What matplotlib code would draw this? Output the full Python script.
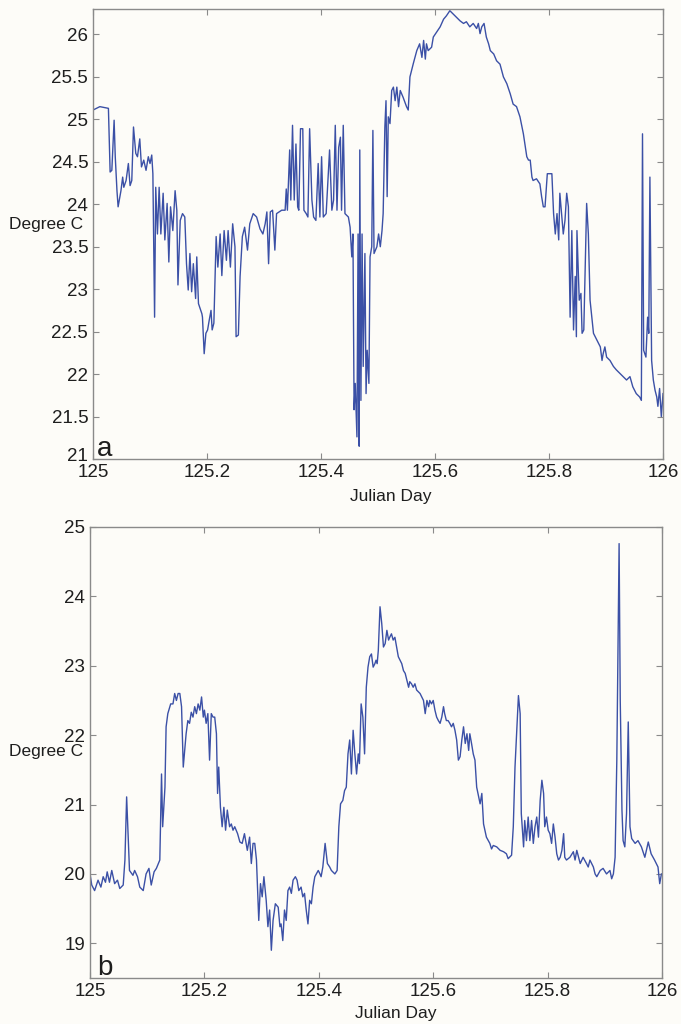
import matplotlib
matplotlib.use('Agg')
import matplotlib.pyplot as plt
import matplotlib.transforms as mtransforms

plt.rcParams['font.family'] = ['Liberation Sans', 'DejaVu Sans']

# ---------------- data: panel a ----------------
a_day = [125.000, 125.012, 125.027, 125.030, 125.033, 125.037, 125.039, 125.042, 125.044, 125.049,
         125.052, 125.054, 125.058, 125.062, 125.065, 125.068, 125.071, 125.075, 125.078, 125.082,
         125.085, 125.089, 125.093, 125.097, 125.100, 125.103, 125.105, 125.108, 125.110, 125.113,
         125.116, 125.119, 125.123, 125.126, 125.130, 125.133, 125.136, 125.140, 125.144, 125.147,
         125.149, 125.153, 125.157, 125.161, 125.164, 125.167, 125.170, 125.173, 125.176, 125.180,
         125.182, 125.185, 125.191, 125.192, 125.195, 125.198, 125.201, 125.204, 125.207, 125.209,
         125.212, 125.216, 125.219, 125.223, 125.226, 125.230, 125.234, 125.237, 125.241, 125.245,
         125.249, 125.251, 125.255, 125.258, 125.262, 125.266, 125.271, 125.275, 125.281, 125.287,
         125.293, 125.298, 125.302, 125.305, 125.308, 125.311, 125.315, 125.319, 125.322, 125.331,
         125.337, 125.339, 125.341, 125.345, 125.347, 125.350, 125.353, 125.356, 125.359, 125.361,
         125.364, 125.368, 125.370, 125.374, 125.377, 125.380, 125.384, 125.387, 125.391, 125.395,
         125.398, 125.401, 125.404, 125.409, 125.415, 125.419, 125.422, 125.425, 125.428, 125.431,
         125.434, 125.436, 125.439, 125.442, 125.448, 125.451, 125.454, 125.456, 125.458, 125.460,
         125.463, 125.465, 125.466, 125.467, 125.468, 125.470, 125.472, 125.474, 125.477, 125.479,
         125.481, 125.484, 125.486, 125.489, 125.491, 125.493, 125.498, 125.501, 125.504, 125.507,
         125.509, 125.512, 125.514, 125.516, 125.518, 125.521, 125.524, 125.527, 125.530, 125.533,
         125.536, 125.539, 125.544, 125.550, 125.553, 125.556, 125.562, 125.568, 125.573, 125.577,
         125.580, 125.583, 125.585, 125.588, 125.594, 125.597, 125.603, 125.609, 125.615, 125.620,
         125.626, 125.632, 125.638, 125.644, 125.650, 125.655, 125.661, 125.667, 125.673, 125.676,
         125.679, 125.682, 125.686, 125.690, 125.694, 125.697, 125.703, 125.708, 125.714, 125.720,
         125.726, 125.732, 125.737, 125.743, 125.749, 125.755, 125.761, 125.764, 125.767, 125.770,
         125.772, 125.778, 125.784, 125.787, 125.790, 125.793, 125.797, 125.805, 125.808, 125.811,
         125.814, 125.817, 125.819, 125.822, 125.825, 125.828, 125.831, 125.834, 125.837, 125.840,
         125.843, 125.846, 125.848, 125.849, 125.853, 125.856, 125.858, 125.861, 125.866, 125.869,
         125.872, 125.875, 125.878, 125.884, 125.890, 125.893, 125.895, 125.898, 125.901, 125.907,
         125.913, 125.918, 125.924, 125.930, 125.936, 125.942, 125.947, 125.953, 125.959, 125.962,
         125.964, 125.966, 125.970, 125.973, 125.975, 125.977, 125.980, 125.983, 125.986, 125.989,
         125.991, 125.994, 125.997, 126.000]
a_temp = [25.11, 25.15, 25.13, 24.38, 24.40, 24.99, 24.56, 24.16, 23.97, 24.16,
          24.32, 24.20, 24.28, 24.48, 24.22, 24.28, 24.91, 24.60, 24.56, 24.77,
          24.44, 24.52, 24.40, 24.56, 24.48, 24.58, 24.36, 22.67, 24.20, 23.65,
          24.20, 23.65, 24.13, 23.58, 24.01, 23.32, 23.97, 23.69, 24.16, 23.93,
          23.05, 23.81, 23.89, 23.85, 23.30, 22.99, 23.42, 22.97, 23.30, 22.89,
          23.38, 22.83, 22.71, 22.67, 22.24, 22.48, 22.52, 22.64, 22.75, 22.52,
          22.60, 23.62, 23.26, 23.65, 23.16, 23.69, 23.34, 23.69, 23.26, 23.77,
          23.50, 22.44, 22.46, 23.15, 23.62, 23.73, 23.46, 23.77, 23.89, 23.85,
          23.71, 23.65, 23.77, 23.91, 23.30, 23.91, 23.93, 23.46, 23.89, 23.93,
          23.93, 24.18, 23.93, 24.64, 24.05, 24.93, 24.05, 24.71, 23.97, 23.93,
          24.89, 24.89, 23.93, 23.89, 23.85, 24.89, 24.05, 23.85, 23.81, 24.48,
          23.85, 24.56, 23.85, 23.89, 24.64, 23.93, 24.05, 24.93, 23.93, 24.67,
          24.79, 23.93, 24.93, 23.89, 23.85, 23.73, 23.38, 23.65, 21.58, 21.89,
          21.26, 23.65, 21.69, 21.15, 24.64, 21.69, 23.65, 22.09, 23.42, 21.77,
          22.28, 21.89, 23.38, 23.50, 24.87, 23.42, 23.50, 23.65, 23.50, 23.69,
          23.89, 24.91, 25.22, 24.09, 25.03, 24.95, 25.34, 25.38, 25.22, 25.38,
          25.15, 25.34, 25.26, 25.15, 25.11, 25.50, 25.66, 25.81, 25.89, 25.73,
          25.93, 25.71, 25.89, 25.81, 25.85, 25.97, 26.03, 26.09, 26.18, 26.22,
          26.28, 26.24, 26.20, 26.16, 26.13, 26.15, 26.09, 26.13, 26.07, 26.13,
          26.01, 26.09, 26.13, 25.97, 25.89, 25.81, 25.77, 25.69, 25.65, 25.50,
          25.42, 25.30, 25.18, 25.15, 25.03, 24.83, 24.56, 24.52, 24.52, 24.32,
          24.28, 24.30, 24.24, 24.09, 23.97, 23.97, 24.36, 24.36, 23.89, 23.65,
          23.89, 23.58, 24.13, 23.89, 23.65, 23.81, 24.13, 23.97, 22.67, 23.69,
          22.52, 23.15, 22.44, 23.69, 22.87, 22.95, 22.48, 22.52, 24.01, 23.65,
          22.87, 22.67, 22.48, 22.40, 22.32, 22.16, 22.24, 22.32, 22.20, 22.16,
          22.09, 22.05, 22.01, 21.97, 21.93, 21.97, 21.85, 21.77, 21.73, 21.69,
          24.83, 22.28, 22.20, 22.67, 22.48, 24.32, 22.16, 21.93, 21.81, 21.73,
          21.62, 21.83, 21.50, 21.77]

# ---------------- data: panel b ----------------
b_day = [125.000, 125.003, 125.008, 125.014, 125.019, 125.023, 125.027, 125.030, 125.034, 125.038,
         125.043, 125.048, 125.052, 125.058, 125.061, 125.064, 125.066, 125.069, 125.075, 125.078,
         125.083, 125.087, 125.093, 125.098, 125.103, 125.107, 125.112, 125.116, 125.122, 125.125,
         125.127, 125.131, 125.133, 125.136, 125.141, 125.145, 125.148, 125.151, 125.154, 125.157,
         125.160, 125.163, 125.166, 125.168, 125.171, 125.174, 125.177, 125.180, 125.183, 125.186,
         125.189, 125.192, 125.195, 125.198, 125.200, 125.203, 125.206, 125.209, 125.212, 125.215,
         125.218, 125.221, 125.223, 125.225, 125.228, 125.231, 125.234, 125.237, 125.240, 125.244,
         125.247, 125.250, 125.253, 125.258, 125.262, 125.266, 125.270, 125.275, 125.279, 125.282,
         125.285, 125.288, 125.291, 125.295, 125.298, 125.301, 125.304, 125.308, 125.311, 125.314,
         125.317, 125.320, 125.324, 125.329, 125.332, 125.334, 125.337, 125.340, 125.343, 125.346,
         125.349, 125.352, 125.355, 125.359, 125.362, 125.365, 125.369, 125.372, 125.375, 125.378,
         125.381, 125.384, 125.387, 125.390, 125.393, 125.399, 125.402, 125.404, 125.407, 125.411,
         125.415, 125.419, 125.422, 125.428, 125.432, 125.435, 125.438, 125.442, 125.445, 125.448,
         125.451, 125.454, 125.457, 125.460, 125.463, 125.466, 125.469, 125.471, 125.474, 125.477,
         125.480, 125.483, 125.486, 125.489, 125.492, 125.495, 125.498, 125.500, 125.502, 125.504,
         125.507, 125.510, 125.513, 125.516, 125.519, 125.522, 125.524, 125.527, 125.530, 125.533,
         125.536, 125.539, 125.542, 125.545, 125.548, 125.551, 125.554, 125.557, 125.559, 125.562,
         125.565, 125.568, 125.571, 125.577, 125.580, 125.583, 125.586, 125.589, 125.592, 125.594,
         125.597, 125.600, 125.603, 125.606, 125.609, 125.612, 125.615, 125.618, 125.620, 125.623,
         125.626, 125.629, 125.632, 125.635, 125.638, 125.641, 125.644, 125.647, 125.650, 125.653,
         125.656, 125.659, 125.662, 125.664, 125.667, 125.670, 125.673, 125.676, 125.682, 125.685,
         125.688, 125.693, 125.699, 125.702, 125.705, 125.711, 125.717, 125.723, 125.728, 125.731,
         125.737, 125.740, 125.743, 125.749, 125.752, 125.754, 125.758, 125.760, 125.763, 125.766,
         125.769, 125.772, 125.775, 125.778, 125.781, 125.784, 125.787, 125.790, 125.793, 125.795,
         125.798, 125.801, 125.804, 125.807, 125.810, 125.813, 125.816, 125.819, 125.822, 125.825,
         125.828, 125.830, 125.833, 125.839, 125.845, 125.848, 125.851, 125.857, 125.862, 125.868,
         125.871, 125.874, 125.880, 125.883, 125.886, 125.892, 125.897, 125.903, 125.909, 125.912,
         125.915, 125.918, 125.921, 125.925, 125.927, 125.930, 125.932, 125.935, 125.938, 125.941,
         125.944, 125.947, 125.953, 125.958, 125.964, 125.970, 125.976, 125.981, 125.987, 125.993,
         125.996, 125.999]
b_temp = [20.00, 19.84, 19.76, 19.91, 19.81, 19.96, 19.88, 20.03, 19.88, 20.05,
          19.86, 19.91, 19.79, 19.84, 20.20, 21.11, 20.68, 20.05, 19.98, 20.05,
          19.96, 19.81, 19.76, 20.00, 20.08, 19.84, 20.03, 20.08, 20.20, 21.44,
          20.68, 21.25, 22.12, 22.31, 22.45, 22.45, 22.60, 22.50, 22.60, 22.60,
          22.41, 21.54, 21.83, 22.02, 22.21, 22.17, 22.33, 22.26, 22.41, 22.31,
          22.45, 22.36, 22.55, 22.26, 22.36, 22.17, 22.31, 21.64, 22.31, 22.26,
          22.26, 22.02, 21.16, 21.54, 20.96, 20.68, 20.96, 20.63, 20.92, 20.68,
          20.72, 20.63, 20.68, 20.58, 20.46, 20.44, 20.58, 20.34, 20.53, 20.15,
          20.44, 20.44, 20.20, 19.33, 19.86, 19.67, 19.96, 19.62, 19.24, 19.48,
          18.90, 19.33, 19.57, 19.52, 19.24, 19.28, 19.04, 19.48, 19.33, 19.76,
          19.81, 19.72, 19.91, 19.96, 19.91, 19.76, 19.81, 19.67, 19.72, 19.48,
          19.28, 19.62, 19.57, 19.81, 19.96, 20.05, 20.00, 19.96, 20.10, 20.44,
          20.15, 20.10, 20.05, 20.00, 20.05, 20.68, 21.01, 21.06, 21.20, 21.25,
          21.73, 21.93, 21.44, 22.07, 21.73, 21.44, 21.73, 21.59, 22.45, 22.26,
          21.73, 22.69, 22.98, 23.13, 23.17, 22.98, 23.03, 23.08, 23.03, 23.22,
          23.85, 23.61, 23.27, 23.32, 23.51, 23.37, 23.41, 23.46, 23.37, 23.41,
          23.27, 23.13, 23.08, 23.03, 22.93, 22.89, 22.79, 22.69, 22.77, 22.74,
          22.69, 22.74, 22.65, 22.60, 22.55, 22.50, 22.31, 22.50, 22.41, 22.50,
          22.45, 22.50, 22.36, 22.26, 22.21, 22.17, 22.26, 22.41, 22.31, 22.21,
          22.21, 22.17, 22.12, 22.17, 22.07, 21.93, 21.64, 21.69, 21.93, 22.12,
          21.88, 22.02, 21.78, 22.02, 21.88, 21.73, 21.64, 21.25, 21.01, 21.16,
          20.72, 20.53, 20.44, 20.36, 20.41, 20.39, 20.34, 20.32, 20.29, 20.22,
          20.27, 20.68, 21.54, 22.57, 22.31, 20.87, 20.39, 20.77, 20.48, 20.82,
          20.48, 20.77, 20.44, 20.68, 20.82, 20.53, 21.06, 21.35, 21.16, 20.68,
          20.82, 20.63, 20.58, 20.44, 20.72, 20.53, 20.29, 20.20, 20.24, 20.34,
          20.58, 20.24, 20.20, 20.24, 20.32, 20.20, 20.34, 20.15, 20.24, 20.15,
          20.10, 20.20, 20.10, 20.00, 19.96, 20.05, 20.08, 20.00, 20.05, 19.93,
          20.00, 20.24, 21.64, 24.76, 22.50, 20.92, 20.48, 20.39, 20.87, 22.19,
          20.68, 20.51, 20.44, 20.48, 20.39, 20.24, 20.46, 20.29, 20.20, 20.10,
          19.86, 20.00]

# ---------------- ticks / labels ----------------
x_ticks = [125, 125.2, 125.4, 125.6, 125.8, 126]
x_tick_labels = ['125', '125.2', '125.4', '125.6', '125.8', '126']
a_y_ticks = [21, 21.5, 22, 22.5, 23, 23.5, 24, 24.5, 25, 25.5, 26]
a_y_tick_labels = ['21', '21.5', '22', '22.5', '23', '23.5', '24', '24.5', '25', '25.5', '26']
b_y_ticks = [19, 20, 21, 22, 23, 24, 25]
b_y_tick_labels = ['19', '20', '21', '22', '23', '24', '25']
x_label = 'Julian Day'
y_label = 'Degree C'
panel_letters = ['a', 'b']

bg = '#fdfcf8'
line_color = '#3b50a6'
spine_color = '#8a8a8a'
text_color = '#1e1e1e'

fig = plt.figure(figsize=(6.81, 10.24), dpi=100, facecolor=bg)
ax_a = fig.add_axes([0.1366, 0.5518, 0.8370, 0.4394])
ax_b = fig.add_axes([0.1322, 0.0449, 0.8399, 0.4405])


def style(ax, yticks, ylabels, ylim):
    ax.set_facecolor(bg)
    ax.set_xlim(125, 126)
    ax.set_ylim(*ylim)
    ax.set_xticks(x_ticks)
    ax.set_xticklabels(x_tick_labels)
    ax.set_yticks(yticks)
    ax.set_yticklabels(ylabels)
    ax.tick_params(direction='in', length=4.5, width=0.8, color=spine_color,
                   top=True, right=True, labelsize=13.5, labelcolor=text_color,
                   pad=3.5)
    for s in ax.spines.values():
        s.set_color(spine_color)
        s.set_linewidth(1.0)


ax_a.plot(a_day, a_temp, color=line_color, lw=1.0)
style(ax_a, a_y_ticks, a_y_tick_labels, (21, 26.3))
# lowest y label sits slightly higher than its tick in the original
lbl = ax_a.get_yticklabels()[0]
lbl.set_transform(lbl.get_transform() +
                  mtransforms.ScaledTranslation(0, 3 / 72, fig.dpi_scale_trans))
ax_a.text(-0.0175, 0.52, y_label, transform=ax_a.transAxes, ha='right', va='center',
          fontsize=12.5, color=text_color)
ax_a.text(0.523, -0.084, x_label, transform=ax_a.transAxes, ha='center', va='center',
          fontsize=12.5, color=text_color)
ax_a.text(0.007, 0.006, panel_letters[0], transform=ax_a.transAxes, ha='left',
          va='baseline', fontsize=20, color=text_color)

ax_b.plot(b_day, b_temp, color=line_color, lw=1.0)
style(ax_b, b_y_ticks, b_y_tick_labels, (18.5, 25))
ax_b.text(-0.012, 0.503, y_label, transform=ax_b.transAxes, ha='right', va='center',
          fontsize=12.5, color=text_color)
ax_b.text(0.535, -0.078, x_label, transform=ax_b.transAxes, ha='center', va='center',
          fontsize=12.5, color=text_color)
ax_b.text(0.012, 0.007, panel_letters[1], transform=ax_b.transAxes, ha='left',
          va='baseline', fontsize=20, color=text_color)

fig.savefig('out.png', dpi=100, facecolor=bg)
